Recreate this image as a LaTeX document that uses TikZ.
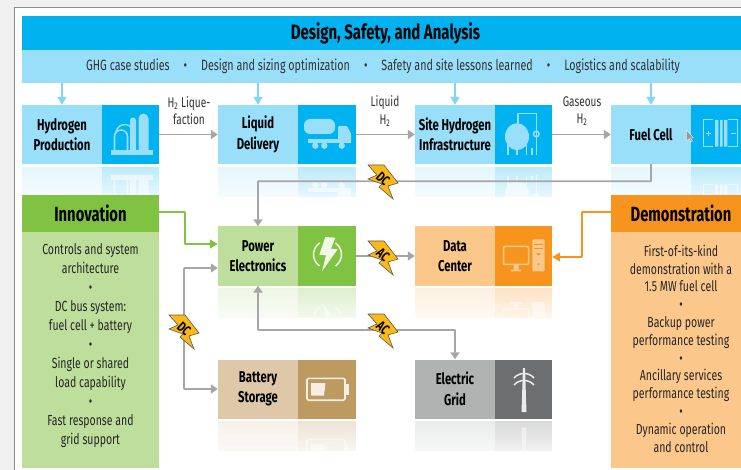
\documentclass[tikz,border=0pt]{standalone}
\usepackage{fontspec}
\setmainfont[FakeStretch=0.72]{Fira Sans}
\usetikzlibrary{arrows.meta,fadings}

\definecolor{skydark}{HTML}{00B2EF}
\definecolor{skylight}{HTML}{99DFFA}
\definecolor{skyline}{HTML}{7FD6F7}
\definecolor{leafdark}{HTML}{80C342}
\definecolor{leaflight}{HTML}{BEDF9C}
\definecolor{amberdark}{HTML}{F7941E}
\definecolor{amberlight}{HTML}{FCC78B}
\definecolor{tandark}{HTML}{BD9A5F}
\definecolor{tanlight}{HTML}{DFC8A8}
\definecolor{greydark}{HTML}{6D6E70}
\definecolor{greylight}{HTML}{B1B3B3}
\definecolor{wire}{HTML}{A6A6A6}
\definecolor{boltfill}{HTML}{FDB913}

\tikzfading[name=fadedown, top color=transparent!35, bottom color=transparent!0]

\tikzset{
    unit/.style = {inner sep=0, minimum width=80pt, minimum height=59pt, align=center,
                   font=\fontsize{15.7}{20.5}\selectfont\bfseries},
    icon/.style = {inner sep=0, minimum width=#1, minimum height=59pt},
    edgetext/.style = {inner sep=0, align=center, font=\fontsize{14}{17.5}\selectfont, text=black!80},
    bodytext/.style = {inner sep=0, align=center, text=black!85},
    header/.style = {inner sep=0, minimum height=37pt, font=\fontsize{20.5}{22}\selectfont\bfseries},
    wireline/.style = {draw=wire, line width=1.7pt, -{Triangle[width=9pt,length=7pt]}},
    bothline/.style = {draw=wire, line width=1.7pt, {Triangle[width=9pt,length=7pt]}-{Triangle[width=9pt,length=7pt]}},
    plantpic/.pic = {
        \fill[#1] (-20,16) rectangle (22,21);
        \fill[#1] (8,17) -- (8,-16) arc[start angle=180,end angle=360,radius=5] -- (18,17) -- cycle;
        \fill[#1] (-.5,17) -- (-.5,-14) arc[start angle=180,end angle=360,radius=3] -- (5.5,17) -- cycle;
        \draw[#1, line width=1.6pt] (-16,17) -- (-16,2) arc[start angle=180,end angle=360,radius=6.5] -- (-3,17);
        \draw[#1, line width=1.4pt] (-15,-1) .. controls (-13,-10) and (-6,-12) .. (0,-8);
    },
    truckpic/.pic = {
        \fill[#1, rounded corners=6pt] (-23,-15.5) rectangle (8,-.5);
        \fill[#1] (-18.7,4.8) rectangle (24,8.2);
        \fill[#1, rounded corners=1pt] (11,8) -- (11,-8.5) -- (20,-8.5) -- (24,-1) -- (24,8) -- cycle;
        \foreach \wheelx in {-11.7,-2.7,14.7} \fill[#1] (\wheelx,11.2) circle (3.2);
    },
    tankpic/.pic = {
        \fill[#1] (-6.5,2.2) ellipse (12 and 13.5);
        \draw[#1, line width=1.5pt] (-5.5,-10) -- (-5.5,-21) -- (12.8,-21) -- (12.8,21);
        \draw[#1, line width=1.5pt] (12.8,-.5) circle (2.8);
        \foreach \legx in {-15.5,-6.5,2.8} \draw[#1, line width=1.5pt] (\legx,10) -- (\legx,20.5);
        \draw[#1, line width=1.2pt] (8.5,20.5) -- (8.5,14);
    },
    cellpic/.pic = {
        \draw[#1, line width=1pt] (-3,-14.5) -- (-12.7,-14.5) -- (-12.7,12.2) -- (-3,12.2);
        \draw[#1, line width=1pt] (12,-14.5) -- (21.7,-14.5) -- (21.7,12.2) -- (12,12.2);
        \draw[#1, line width=.8pt] (-10.5,-1) -- (-5.5,-1) (-8,-3.5) -- (-8,1.5) (15,-1) -- (19.5,-1);
        \fill[#1] (-1,-14.5) rectangle (2.3,12.2) (4,-14.5) rectangle (6.7,12.2) (8,-14.5) rectangle (11.3,12.2);
    },
    flashpic/.pic = {
        \fill[#1] (-1.7,-19) -- (8.3,-18.3) -- (4,-7.3) -- (10.7,-6.7) -- (-5,15.3) -- (-1,-.7) -- (-7.7,-1.3) -- cycle;
        \draw[#1, line width=1.5pt] (-7.5,-13) arc[start angle=235,end angle=125,radius=14];
        \draw[#1, line width=1.5pt] (8.5,10) arc[start angle=55,end angle=-55,radius=14];
    },
    screenpic/.pic = {
        \draw[#1, line width=1.5pt, rounded corners=1pt] (-20,-9.5) rectangle (5,8.5);
        \fill[#1] (-10,9) rectangle (-5,13.5) (-12.5,13.5) rectangle (-2.5,15.3);
        \fill[#1, rounded corners=1pt] (8.8,-16.7) rectangle (21.2,15.3);
        \draw[amberdark, line width=.8pt] (10.5,-12) -- (19.5,-12) (10.5,-8) -- (19.5,-8);
        \fill[amberdark] (12.5,-2.5) -- (17.5,-2.5) -- (15,-.5) -- cycle (15,8) circle (1.1);
    },
    cellbatpic/.pic = {
        \draw[#1, line width=1.6pt, rounded corners=1.5pt] (-20,-10.7) rectangle (18,11.2);
        \fill[#1] (18.5,-5) rectangle (22.3,6);
        \fill[#1] (-16,-6) -- (-1.5,-6) -- (-3,6.5) -- (-16,6.5) -- cycle;
    },
    pylonpic/.pic = {
        \fill[#1] (-1,-21) -- (1,-21) -- (2.5,23) -- (-2.5,23) -- cycle;
        \draw[#1, line width=1.5pt] (-10,-11) .. controls (-5,-17) and (5,-17) .. (10,-11);
        \draw[#1, line width=1.5pt] (-10,-4) .. controls (-5,-10) and (5,-10) .. (10,-4);
    }
}

% reflection under a box: left, split, right, bottom, light, dark, pic, center offset
\newcommand{\mirrorbox}[8]{
    \begin{scope}
    \clip (#1,#4+3) rectangle (#3,#4+33);
    \fill[#5] (#1,#4+3) rectangle (#2,#4+33);
    \fill[#6] (#2,#4+3) rectangle (#3,#4+33);
    \pic[yscale=-1] at ({#8},{#4+32.5}) {#7};
    \fill[white, path fading=fadedown] (#1,#4-12) rectangle (#3,#4+48);
    \end{scope}
}
\newcommand{\boltmark}[4]{
    \fill[boltfill, draw=black!65, line width=.6pt, shift={(#2,#3)}]
        (-15,-16) -- (1,-16) -- (15,2) -- (5,5) -- (10,18) -- (-4,6) -- (-1,3) -- (-15,-2) -- (-6,-6) -- cycle;
    \node[inner sep=0, rotate=-42, font=\fontsize{14}{14}\selectfont\bfseries] (#1) at (#2,#3-2) {#4};
}
\newcommand{\gap}{\hspace{14pt}\textbullet\hspace{14pt}}

\begin{document}
\begin{tikzpicture}[x=1pt, y=-1pt]
\useasboundingbox (0,0) rectangle (741,470);
\clip (0,0) rectangle (741,470);

\fill[black!6] (0,0) rectangle (741,470);
\fill[white, draw=black!45, line width=1pt] (14,8) rectangle (760,490);

% top bars
\node[inner sep=0, fill=skydark, minimum width=727pt, minimum height=34pt,
      font=\fontsize{20.8}{22}\selectfont\bfseries] (design) at (385.5,33) {Design, Safety, and Analysis};
\node[inner sep=0, fill=skylight, minimum width=722pt, minimum height=33pt, text=black!80,
      font=\fontsize{14.9}{17}\selectfont] (studies) at (383,66.5)
      {GHG case studies\gap Design and sizing optimization\gap Safety and site lessons learned\gap Logistics and scalability};

% reflections
\mirrorbox{22}{102}{159}{164}{skylight}{skydark}{plantpic=skylight}{130.5}
\mirrorbox{218}{298}{356}{164}{skylight}{skydark}{truckpic=skylight}{327}
\mirrorbox{415}{495}{552}{164}{skylight}{skydark}{tankpic=skylight}{523.5}
\mirrorbox{611}{691}{741}{164}{skylight}{skydark}{cellpic=skylight}{716}
\mirrorbox{218}{298}{356}{285}{leaflight}{leafdark}{flashpic=leaflight}{327}
\mirrorbox{415}{495}{552}{285}{amberlight}{amberdark}{screenpic=amberlight}{523.5}
\mirrorbox{218}{298}{356}{418}{tanlight}{tandark}{cellbatpic=tanlight}{327}
\mirrorbox{415}{495}{552}{418}{greylight}{greydark}{pylonpic=greylight}{524}

% first row
\node[unit, fill=skylight] (production) at (62,134.5) {Hydrogen\\Production};
\node[icon=57pt, fill=skydark] (productionicon) at (130.5,134.5) {};
\pic at (productionicon) {plantpic=skylight};
\node[unit, fill=skylight] (delivery) at (258,134.5) {Liquid\\Delivery};
\node[icon=58pt, fill=skydark] (deliveryicon) at (327,134.5) {};
\pic at (deliveryicon) {truckpic=skylight};
\node[unit, fill=skylight] (infra) at (455,134.5) {Site Hydrogen\\Infrastructure};
\node[icon=57pt, fill=skydark] (infraicon) at (523.5,134.5) {};
\pic at (infraicon) {tankpic=skylight};
\node[unit, fill=skylight] (fuelcell) at (651,134.5) {Fuel Cell};
\node[icon=60pt, fill=skydark] (fuelcellicon) at (721,134.5) {};
\pic at (716,134.5) {cellpic=skylight};
\fill[black!40, draw=white, line width=.3pt] (686.5,130) -- (686.5,141) -- (689,138.5) -- (691,142) -- (692.5,141) -- (690.5,138) -- (693.5,138) -- cycle;

% second and third rows
\node[unit, fill=leaflight] (power) at (258,256) {Power\\Electronics};
\node[icon=58pt, fill=leafdark] (powericon) at (327,256) {};
\pic at (powericon) {flashpic=white!75!leaflight};
\node[unit, fill=amberlight] (data) at (455,256) {Data\\Center};
\node[icon=57pt, fill=amberdark] (dataicon) at (523.5,256) {};
\pic at (dataicon) {screenpic=amberlight};
\node[unit, fill=tanlight] (battery) at (258,389) {Battery\\Storage};
\node[icon=58pt, fill=tandark] (batteryicon) at (327,389) {};
\pic at (batteryicon) {cellbatpic=white!70!tanlight};
\node[unit, fill=greylight] (grid) at (455,389) {Electric\\Grid};
\node[icon=57pt, fill=greydark] (gridicon) at (523.5,389) {};
\pic at (524,389) {pylonpic=white!75!greylight};

% side panels
\node[header, minimum width=137pt, fill=leafdark] (innovation) at (90.5,213.5) {Innovation};
\node[inner sep=0, minimum width=137pt, minimum height=236pt, fill=leaflight] (innovationbody) at (90.5,350) {};
\node[bodytext, font=\fontsize{14.6}{19}\selectfont] (innovationtext) at (90.5,346)
    {Controls and system\\architecture\\\textbullet\\DC bus system:\\fuel cell + battery\\\textbullet\\Single or shared\\load capability\\\textbullet\\Fast response and\\grid support};
\node[header, minimum width=140pt, fill=amberdark] (demo) at (681,213.5) {Demonstration};
\node[inner sep=0, minimum width=140pt, minimum height=236pt, fill=amberlight] (demobody) at (681,350) {};
\node[bodytext, font=\fontsize{14.6}{17.8}\selectfont] (demotext) at (681,348.5)
    {First-of-its-kind\\demonstration with a\\1.5 MW fuel cell\\\textbullet\\Backup power\\performance testing\\\textbullet\\Ancillary services\\performance testing\\\textbullet\\Dynamic operation\\and control};

% connectors
\foreach \target in {production,delivery,infra,fuelcell}
    \draw[draw=skyline, line width=1.7pt, -{Triangle[width=9pt,length=8pt]}] (studies.south -| \target) -- (\target.north);
\draw[wireline] (productionicon.east) -- (delivery.west);
\draw[wireline] (deliveryicon.east) -- (infra.west);
\draw[wireline] (infraicon.east) -- (fuelcell.west);
\draw[wireline, rounded corners=.5pt] (fuelcell.south) -- ++(0,17) -| (power.north);
\draw[wireline] (powericon.east) -- (data.west);
\draw[bothline, rounded corners=.5pt] (power.west |- 0,268) -| (184,389) -- (battery.west);
\draw[bothline, rounded corners=.5pt] (power.south) |- (383,330) -| (grid.north);
\draw[draw=leafdark, line width=1.7pt, -{Triangle[width=9pt,length=8pt]}, rounded corners=.5pt]
    (innovation.east |- 0,212) -| (185,244) -- (power.west |- 0,244);
\draw[draw=amberdark, line width=1.7pt, -{Triangle[width=9pt,length=8pt]}, rounded corners=.5pt]
    (demo.west |- 0,212) -| (582,257) -- (dataicon.east |- 0,257);

% labels
\node[edgetext] (liquefaction) at (189,110.5) {H\textsubscript{2} Lique-\\faction};
\node[edgetext] (liquidh) at (385,111) {Liquid\\H\textsubscript{2}};
\node[edgetext] (gaseoush) at (582,111) {Gaseous\\H\textsubscript{2}};

\boltmark{boltfuel}{383}{181}{DC}
\boltmark{boltdata}{383}{257}{AC}
\boltmark{boltgrid}{383}{330}{AC}
\boltmark{boltbattery}{184}{331}{DC}
\end{tikzpicture}
\end{document}
